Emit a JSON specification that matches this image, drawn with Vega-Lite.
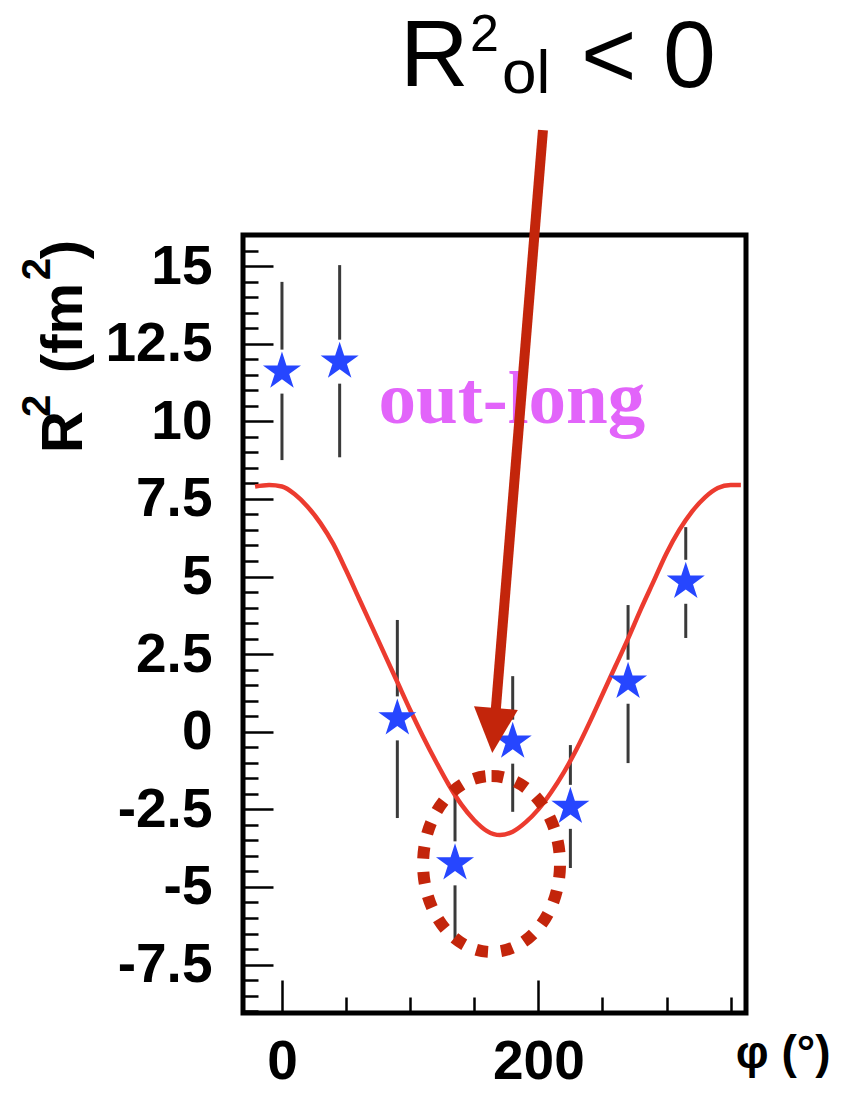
{
  "$schema": "https://vega.github.io/schema/vega-lite/v6.json",
  "autosize": "none",
  "width": 503,
  "height": 778,
  "padding": {"left": 243, "top": 235, "right": 101, "bottom": 83},
  "background": "white",
  "config": {
    "view": {"stroke": "black", "strokeWidth": 5},
    "font": "Liberation Sans"
  },
  "datasets": {
    "points": [
      {"phi": 0, "r2": 11.6, "lo": 8.75, "hi": 14.49},
      {"phi": 45, "r2": 11.92, "lo": 8.84, "hi": 15.03},
      {"phi": 90, "r2": 0.43, "lo": -2.78, "hi": 3.6},
      {"phi": 135, "r2": -4.24, "lo": -6.71, "hi": -1.93},
      {"phi": 180, "r2": -0.32, "lo": -2.58, "hi": 1.79},
      {"phi": 225, "r2": -2.42, "lo": -4.39, "hi": -0.43},
      {"phi": 270, "r2": 1.61, "lo": -1.01, "hi": 4.08},
      {"phi": 315, "r2": 4.83, "lo": 3.02, "hi": 6.59}
    ],
    "curve": [
      {"phi": -21, "r2": 7.9},
      {"phi": -10, "r2": 7.95},
      {"phi": 0, "r2": 7.9},
      {"phi": 10, "r2": 7.65},
      {"phi": 20, "r2": 7.25},
      {"phi": 30, "r2": 6.72},
      {"phi": 40, "r2": 6.05},
      {"phi": 50, "r2": 5.2},
      {"phi": 60, "r2": 4.3},
      {"phi": 70, "r2": 3.4},
      {"phi": 80, "r2": 2.5},
      {"phi": 90, "r2": 1.6},
      {"phi": 100, "r2": 0.7},
      {"phi": 110, "r2": -0.15},
      {"phi": 120, "r2": -0.95},
      {"phi": 130, "r2": -1.7},
      {"phi": 140, "r2": -2.35},
      {"phi": 150, "r2": -2.85},
      {"phi": 160, "r2": -3.2},
      {"phi": 170, "r2": -3.33},
      {"phi": 180, "r2": -3.22},
      {"phi": 190, "r2": -2.92},
      {"phi": 200, "r2": -2.5},
      {"phi": 210, "r2": -1.95},
      {"phi": 220, "r2": -1.3},
      {"phi": 230, "r2": -0.55},
      {"phi": 240, "r2": 0.3},
      {"phi": 250, "r2": 1.2},
      {"phi": 260, "r2": 2.1},
      {"phi": 270, "r2": 3.0},
      {"phi": 280, "r2": 3.95},
      {"phi": 290, "r2": 4.85},
      {"phi": 300, "r2": 5.75},
      {"phi": 310, "r2": 6.5},
      {"phi": 320, "r2": 7.1},
      {"phi": 330, "r2": 7.55},
      {"phi": 340, "r2": 7.85},
      {"phi": 350, "r2": 7.95},
      {"phi": 358, "r2": 7.95}
    ],
    "one": [{}]
  },
  "layer": [
    {
      "data": {"name": "points"},
      "mark": {"type": "rule", "color": "#3a3a3a", "strokeWidth": 3},
      "encoding": {
        "x": {
          "field": "phi", "type": "quantitative",
          "scale": {"domain": [-30.4, 362], "nice": false, "zero": false},
          "axis": {
            "values": [0, 50, 100, 150, 200, 250, 300, 350],
            "tickCount": 100,
            "labelExpr": "datum.value % 200 === 0 ? '' + datum.value : ''",
            "labelFont": "Liberation Sans", "labelFontSize": 55, "labelFontWeight": "bold", "labelColor": "black",
            "labelPadding": 55, "labelOverlap": false, "labelFlush": false, "labelBound": false,
            "tickSize": {"condition": {"test": "datum.value % 200 === 0", "value": -33}, "value": -16},
            "tickColor": "black", "tickWidth": 2.5, "domain": false, "grid": false,
            "title": "φ (°)", "titleFont": "Liberation Sans", "titleFontSize": 46, "titleFontWeight": "bold", "titleColor": "black",
            "titleX": 587, "titleY": 54, "titleAlign": "right", "titleBaseline": "alphabetic", "titleAnchor": "end"
          }
        },
        "y": {
          "field": "lo", "type": "quantitative",
          "scale": {"domain": [-9.06, 16.0], "nice": false, "zero": false},
          "axis": {
            "values": [-9, -8.5, -8, -7.5, -7, -6.5, -6, -5.5, -5, -4.5, -4, -3.5, -3, -2.5, -2, -1.5, -1, -0.5, 0, 0.5, 1, 1.5, 2, 2.5, 3, 3.5, 4, 4.5, 5, 5.5, 6, 6.5, 7, 7.5, 8, 8.5, 9, 9.5, 10, 10.5, 11, 11.5, 12, 12.5, 13, 13.5, 14, 14.5, 15, 15.5],
            "tickCount": 200,
            "labelExpr": "abs(datum.value % 2.5) < 0.001 ? '' + datum.value : ''",
            "labelFont": "Liberation Sans", "labelFontSize": 55, "labelFontWeight": "bold", "labelColor": "black",
            "labelPadding": 61, "labelOverlap": false, "labelFlush": false, "labelBound": false,
            "tickSize": {"condition": {"test": "abs(datum.value % 2.5) < 0.001", "value": -30}, "value": -15},
            "tickColor": "black", "tickWidth": 2.5, "domain": false, "grid": false,
            "title": null
          }
        },
        "y2": {"field": "hi"}
      }
    },
    {
      "data": {"name": "points"},
      "mark": {"type": "point", "shape": "M-0.15,-1L0.15,-1L0.15,1L-0.15,1Z", "size": 1936, "filled": true, "color": "white", "opacity": 1},
      "encoding": {
        "x": {"field": "phi", "type": "quantitative"},
        "y": {"field": "r2", "type": "quantitative"}
      }
    },
    {
      "data": {"name": "curve"},
      "mark": {"type": "line", "color": "#ec3b2f", "strokeWidth": 4.5, "interpolate": "monotone"},
      "encoding": {
        "x": {"field": "phi", "type": "quantitative"},
        "y": {"field": "r2", "type": "quantitative"}
      }
    },
    {
      "data": {"name": "points"},
      "mark": {"type": "point", "shape": "M0,-1L0.2245,-0.309L0.951,-0.309L0.3633,0.118L0.588,0.809L0,0.382L-0.588,0.809L-0.3633,0.118L-0.951,-0.309L-0.2245,-0.309Z", "size": 1600, "filled": true, "color": "#2646ff", "opacity": 1},
      "encoding": {
        "x": {"field": "phi", "type": "quantitative"},
        "y": {"field": "r2", "type": "quantitative"}
      }
    },
    {
      "data": {"name": "one"},
      "mark": {"type": "text", "text": "out-long", "font": "Liberation Serif", "fontSize": 75, "fontWeight": "bold", "color": "#e264fa", "align": "center", "baseline": "alphabetic"},
      "encoding": {
        "x": {"datum": 179.4, "type": "quantitative"},
        "y": {"datum": 9.94, "type": "quantitative"}
      }
    },
    {
      "data": {"name": "one"},
      "mark": {"type": "point", "shape": "M0,-1C0.4297,-1,0.778,-0.5523,0.778,0C0.778,0.5523,0.4297,1,0,1C-0.4297,1,-0.778,0.5523,-0.778,0C-0.778,-0.5523,-0.4297,-1,0,-1Z", "size": 30976, "filled": false, "color": "#c3250b", "strokeWidth": 12, "strokeDash": [12, 13], "opacity": 1},
      "encoding": {
        "x": {"datum": 163.5, "type": "quantitative"},
        "y": {"datum": -4.26, "type": "quantitative"}
      }
    },
    {
      "data": {"name": "one"},
      "mark": {"type": "rule", "color": "#c3250b", "strokeWidth": 10, "strokeCap": "butt"},
      "encoding": {
        "x": {"datum": 203.6, "type": "quantitative"},
        "y": {"datum": 19.38, "type": "quantitative"},
        "x2": {"datum": 166.0},
        "y2": {"datum": 0.3}
      }
    },
    {
      "data": {"name": "one"},
      "mark": {"type": "point", "shape": "M-0.489,0L0.489,0L0,1Z", "size": 8100, "filled": true, "color": "#c3250b", "opacity": 1, "angle": 4.65},
      "encoding": {
        "x": {"datum": 166.9, "type": "quantitative"},
        "y": {"datum": 0.76, "type": "quantitative"}
      }
    },
    {
      "data": {"name": "one"},
      "mark": {"type": "text", "text": "R", "font": "Liberation Sans", "fontSize": 95, "color": "black", "align": "left", "baseline": "alphabetic"},
      "encoding": {
        "x": {"datum": 92.1, "type": "quantitative"},
        "y": {"datum": 20.79, "type": "quantitative"}
      }
    },
    {
      "data": {"name": "one"},
      "mark": {"type": "text", "text": "2", "font": "Liberation Sans", "fontSize": 52, "color": "black", "align": "left", "baseline": "alphabetic"},
      "encoding": {
        "x": {"datum": 146.7, "type": "quantitative"},
        "y": {"datum": 21.92, "type": "quantitative"}
      }
    },
    {
      "data": {"name": "one"},
      "mark": {"type": "text", "text": "ol", "font": "Liberation Sans", "fontSize": 62, "color": "black", "align": "left", "baseline": "alphabetic"},
      "encoding": {
        "x": {"datum": 171.6, "type": "quantitative"},
        "y": {"datum": 20.57, "type": "quantitative"}
      }
    },
    {
      "data": {"name": "one"},
      "mark": {"type": "text", "text": "< 0", "font": "Liberation Sans", "fontSize": 95, "color": "black", "align": "left", "baseline": "alphabetic"},
      "encoding": {
        "x": {"datum": 233.3, "type": "quantitative"},
        "y": {"datum": 20.76, "type": "quantitative"}
      }
    },
    {
      "data": {"name": "one"},
      "mark": {"type": "text", "text": "R", "font": "Liberation Sans", "fontSize": 58, "fontWeight": "bold", "color": "black", "align": "left", "baseline": "alphabetic", "angle": 270},
      "encoding": {
        "x": {"datum": -156.0, "type": "quantitative"},
        "y": {"datum": 8.98, "type": "quantitative"}
      }
    },
    {
      "data": {"name": "one"},
      "mark": {"type": "text", "text": "2", "font": "Liberation Sans", "fontSize": 40, "fontWeight": "bold", "color": "black", "align": "left", "baseline": "alphabetic", "angle": 270},
      "encoding": {
        "x": {"datum": -181.0, "type": "quantitative"},
        "y": {"datum": 10.14, "type": "quantitative"}
      }
    },
    {
      "data": {"name": "one"},
      "mark": {"type": "text", "text": "(fm", "font": "Liberation Sans", "fontSize": 58, "fontWeight": "bold", "color": "black", "align": "left", "baseline": "alphabetic", "angle": 270},
      "encoding": {
        "x": {"datum": -156.0, "type": "quantitative"},
        "y": {"datum": 11.55, "type": "quantitative"}
      }
    },
    {
      "data": {"name": "one"},
      "mark": {"type": "text", "text": "2", "font": "Liberation Sans", "fontSize": 40, "fontWeight": "bold", "color": "black", "align": "left", "baseline": "alphabetic", "angle": 270},
      "encoding": {
        "x": {"datum": -181.0, "type": "quantitative"},
        "y": {"datum": 14.54, "type": "quantitative"}
      }
    },
    {
      "data": {"name": "one"},
      "mark": {"type": "text", "text": ")", "font": "Liberation Sans", "fontSize": 58, "fontWeight": "bold", "color": "black", "align": "left", "baseline": "alphabetic", "angle": 270},
      "encoding": {
        "x": {"datum": -156.0, "type": "quantitative"},
        "y": {"datum": 15.22, "type": "quantitative"}
      }
    }
  ]
}
